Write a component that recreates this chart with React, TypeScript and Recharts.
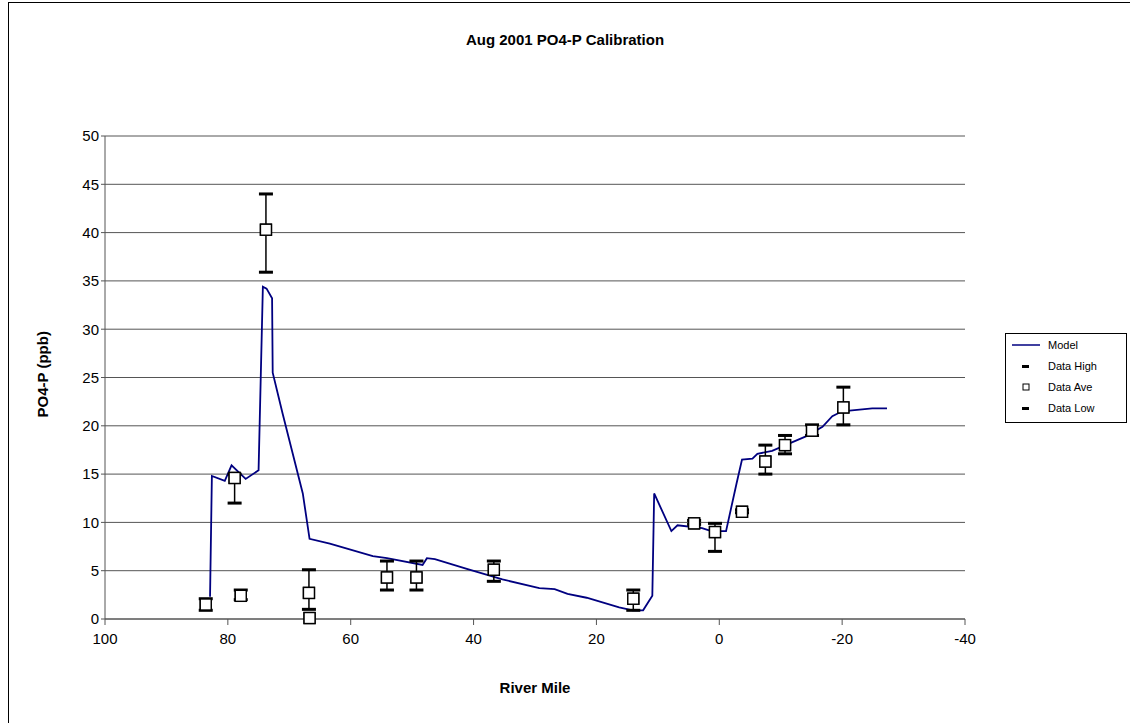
import { ComposedChart, Line, Scatter, ErrorBar, XAxis, YAxis, CartesianGrid, Label } from 'recharts'

const modelMile = [82.9, 82.6, 80.5, 79.4, 77.1, 75.0, 74.3, 73.7, 72.8, 72.7, 71.1, 67.8, 66.7, 63.4, 56.4, 54.1, 48.3, 47.6, 46.3, 41.1, 35.3, 29.3, 26.8, 24.7, 21.6, 16.3, 14.1, 12.4, 10.9, 10.6, 7.8, 6.8, 2.8, 1.3, -1.1, -2.8, -3.7, -5.4, -6.2, -8.6, -14.1, -16.8, -18.4, -20.0, -21.6, -24.9, -27.3]
const modelValue = [2.3, 14.8, 14.3, 15.9, 14.5, 15.4, 34.4, 34.2, 33.2, 25.5, 21.3, 13.0, 8.3, 7.8, 6.5, 6.3, 5.6, 6.3, 6.2, 5.2, 4.1, 3.2, 3.1, 2.6, 2.2, 1.2, 0.9, 0.9, 2.4, 13.0, 9.1, 9.7, 9.4, 9.1, 9.1, 14.0, 16.5, 16.6, 17.1, 17.4, 18.9, 19.9, 21.0, 21.5, 21.6, 21.8, 21.8]

const dataMile = [83.6, 77.9, 78.9, 73.8, 66.8, 66.7, 54.1, 49.3, 36.7, 14.0, 4.1, 0.7, -3.7, -7.5, -10.7, -15.1, -20.2]
const dataHigh = [2.1, 3.0, 15.0, 44.0, 5.1, 0.1, 6.0, 6.0, 6.0, 3.0, 10.2, 9.9, 11.3, 18.0, 19.0, 20.1, 24.0]
const dataAve = [1.5, 2.4, 14.6, 40.3, 2.7, 0.1, 4.3, 4.3, 5.1, 2.1, 9.9, 9.0, 11.1, 16.3, 18.0, 19.5, 21.9]
const dataLow = [0.9, 2.0, 12.0, 35.9, 1.0, 0.1, 3.0, 3.0, 3.9, 0.9, 9.8, 7.0, 11.0, 15.0, 17.1, 19.0, 20.1]

const yTicks = [0, 5, 10, 15, 20, 25, 30, 35, 40, 45, 50]
const xTicks = [100, 80, 60, 40, 20, 0, -20, -40]

const model = modelMile.map((m, i) => ({ mile: m, value: modelValue[i] }))
const ave = dataMile.map((m, i) => ({ mile: m, value: dataAve[i], err: [dataAve[i] - dataLow[i], dataHigh[i] - dataAve[i]] }))
const high = dataMile.map((m, i) => ({ mile: m, value: dataHigh[i] })).filter((_, i) => dataHigh[i] !== dataAve[i])
const low = dataMile.map((m, i) => ({ mile: m, value: dataLow[i] })).filter((_, i) => dataLow[i] !== dataAve[i])

const FONT = '"Liberation Sans", Arial, sans-serif'

const Dash = (p: any) => <rect x={p.cx - 7} y={p.cy - 1.5} width={14} height={3} fill="#000" />
const Box = (p: any) => <rect x={p.cx - 5.5} y={p.cy - 5.5} width={11} height={11} fill="#fff" stroke="#000" strokeWidth={1.4} />

export default function App() {
  return (
    <div style={{ position: 'absolute', left: 0, top: 0, width: 1130, height: 723, background: '#fff', fontFamily: FONT }}>
      <div style={{ position: 'absolute', left: 8, top: 2, width: 1130, height: 730, border: '1px solid #000' }} />
      <div style={{ position: 'absolute', top: 31, width: 1130, textAlign: 'center', fontWeight: 'bold', fontSize: 15 }}>
        Aug 2001 PO4-P Calibration
      </div>
      <ComposedChart width={1130} height={723} margin={{ top: 136, right: 165, bottom: 74, left: 45 }} style={{ position: 'absolute', left: 0, top: 0 }}>
        <CartesianGrid horizontal vertical={false} stroke="#555" />
        <XAxis dataKey="mile" type="number" domain={[-40, 100]} reversed ticks={xTicks} allowDataOverflow
          tick={{ fontSize: 15, fill: '#000', fontFamily: FONT, dy: 6 }} stroke="#555" tickSize={6} height={30}>
          <Label value="River Mile" position="insideBottom" offset={-44} style={{ fontWeight: 'bold', fontSize: 15, fill: '#000', fontFamily: FONT }} />
        </XAxis>
        <YAxis dataKey="value" type="number" domain={[0, 50]} ticks={yTicks} width={60}
          tick={{ fontSize: 15, fill: '#000', fontFamily: FONT }} stroke="#555" tickSize={4}>
          <Label value="PO4-P (ppb)" angle={-90} position="insideLeft" offset={-2} dy={40} style={{ fontWeight: 'bold', fontSize: 15, fill: '#000', fontFamily: FONT }} />
        </YAxis>
        <Line data={model} dataKey="value" stroke="#000080" strokeWidth={1.8} dot={false} isAnimationActive={false} />
        <Scatter data={ave} dataKey="value" shape={Box} isAnimationActive={false}>
          <ErrorBar dataKey="err" direction="y" width={0} stroke="#000" strokeWidth={1.5} />
        </Scatter>
        <Scatter data={high} dataKey="value" shape={Dash} isAnimationActive={false} />
        <Scatter data={low} dataKey="value" shape={Dash} isAnimationActive={false} />
        <Scatter data={ave} dataKey="value" shape={Box} isAnimationActive={false} />
      </ComposedChart>
      <div style={{ position: 'absolute', left: 1005, top: 333, width: 120, height: 88, border: '1px solid #000', fontSize: 11, background: '#fff' }}>
        {[
          { name: 'Model', icon: <line x1={2} y1={6} x2={30} y2={6} stroke="#000080" strokeWidth={1.5} /> },
          { name: 'Data High', icon: <rect x={12} y={5} width={7} height={3} fill="#000" /> },
          { name: 'Data Ave', icon: <rect x={13} y={3} width={6} height={6} fill="#fff" stroke="#000" /> },
          { name: 'Data Low', icon: <rect x={12} y={5} width={7} height={3} fill="#000" /> },
        ].map((e) => (
          <div key={e.name} style={{ display: 'flex', alignItems: 'center', height: 20, marginTop: 1, paddingLeft: 4 }}>
            <svg width={34} height={12}>{e.icon}</svg>
            <span style={{ marginLeft: 4 }}>{e.name}</span>
          </div>
        ))}
      </div>
    </div>
  )
}
